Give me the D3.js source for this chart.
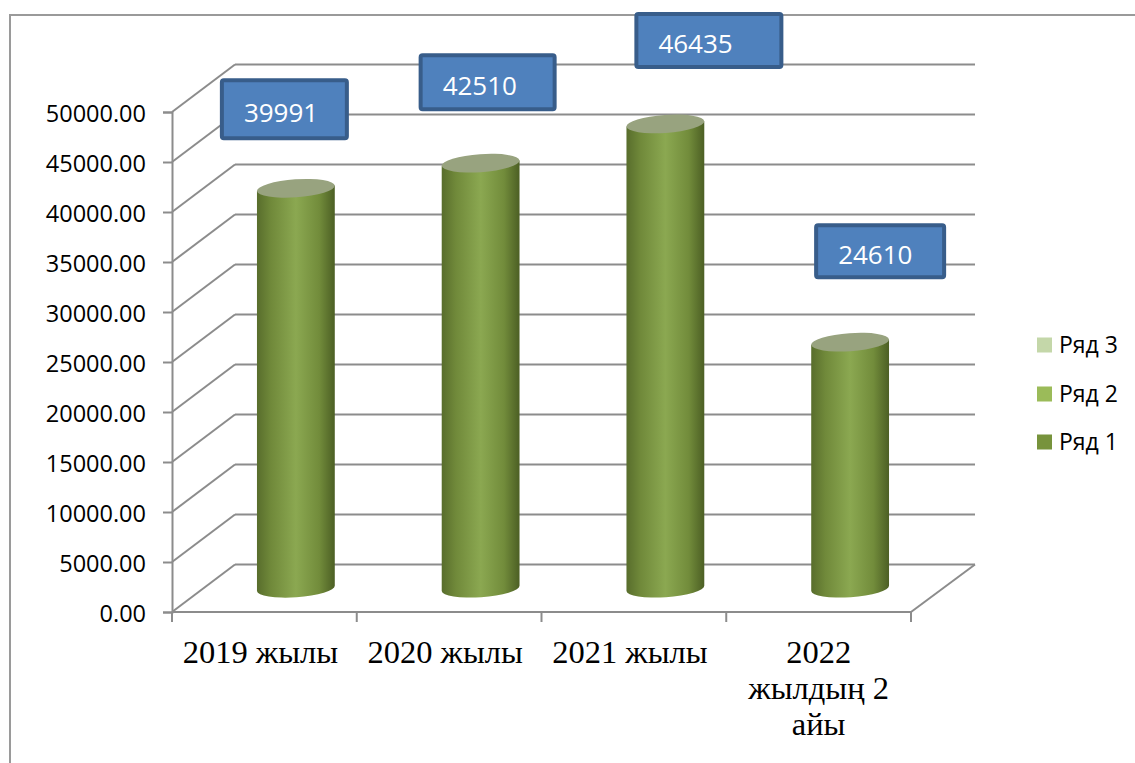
<!DOCTYPE html>
<html>
<head>
<meta charset="utf-8">
<script src="https://cdn.jsdelivr.net/npm/d3@7"></script>
<style>
  html, body { margin: 0; padding: 0; background: #fff; }
  svg { display: block; }
</style>
</head>
<body>
<svg id="chart" width="1135" height="763"></svg>
<script>
// ---------- data ----------
const categories = ["2019 жылы", "2020 жылы", "2021 жылы", "2022\nжылдың 2\nайы"];
const seriesValues = [39991, 42510, 46435, 24610];      // Ряд 1
const valueLabels = ["39991", "42510", "46435", "24610"];
const yTicks = [0, 5000, 10000, 15000, 20000, 25000, 30000, 35000, 40000, 45000, 50000];
const legendNames = ["Ряд 3", "Ряд 2", "Ряд 1"];
const legendColors = ["#C4D7A9", "#9BBB59", "#77933C"];

// ---------- layout ----------
const W = 1135, H = 763;
const plot = { left: 172, right: 911, top: 112, bottom: 612 };
const depth = { dx: 63, dy: -47.5 };
const cylRx = 39, cylRy = 9, tilt = -4;
// manual placement of the data-label boxes (relative to the cylinder top)
const labelBoxes = [
  { dx: -74, dy: -108, w: 125, h: 58 },
  { dx: -60, dy: -108, w: 134, h: 54 },
  { dx: -29, dy: -110, w: 145, h: 53 },
  { dx: -34, dy: -117, w: 128, h: 52 }
];

const svg = d3.select("#chart");
const grid = "#8c8c8c";

// outer chart border
svg.append("rect").attr("x", 10).attr("y", 15).attr("width", W + 20).attr("height", H + 20)
  .attr("fill", "none").attr("stroke", "#9a9a9a").attr("stroke-width", 2);

const y = d3.scaleLinear().domain([0, 50000]).range([plot.bottom, plot.top]);
const x = d3.scaleBand().domain(categories).range([plot.left, plot.right]).paddingInner(0).paddingOuter(0);

const gGrid = svg.append("g");
// back wall grid lines + left wall diagonals
yTicks.forEach(t => {
  const yy = y(t);
  gGrid.append("line")
    .attr("x1", plot.left + depth.dx).attr("y1", yy + depth.dy)
    .attr("x2", plot.right + depth.dx + 1).attr("y2", yy + depth.dy)
    .attr("stroke", grid).attr("stroke-width", 2);
  gGrid.append("line")
    .attr("x1", plot.left).attr("y1", yy)
    .attr("x2", plot.left + depth.dx).attr("y2", yy + depth.dy)
    .attr("stroke", grid).attr("stroke-width", 2);
});
// floor right diagonal
gGrid.append("line")
  .attr("x1", plot.right).attr("y1", y(0))
  .attr("x2", plot.right + depth.dx + 1).attr("y2", y(0) + depth.dy)
  .attr("stroke", grid).attr("stroke-width", 2);

// y axis
const yAxis = d3.axisLeft(y).tickValues(yTicks).tickFormat(d3.format(".2f")).tickSize(9).tickPadding(17);
const gy = svg.append("g").attr("transform", `translate(${plot.left},0)`).call(yAxis);
gy.select(".domain").attr("stroke", grid).attr("stroke-width", 2);
gy.selectAll(".tick line").attr("stroke", grid).attr("stroke-width", 2);
gy.selectAll(".tick text")
  .attr("font-family", "'Open Sans', sans-serif").attr("font-size", 23.5)
  .attr("fill", "#000").attr("dy", "0.42em");

// x axis (ticks at category boundaries)
const gx = svg.append("g");
gx.append("line").attr("x1", plot.left).attr("x2", plot.right)
  .attr("y1", y(0)).attr("y2", y(0)).attr("stroke", grid).attr("stroke-width", 2);
const bounds = categories.map(c => x(c)).concat([plot.right]);
gx.selectAll("line.tk").data(bounds).enter().append("line").attr("class", "tk")
  .attr("x1", d => d).attr("x2", d => d)
  .attr("y1", y(0)).attr("y2", y(0) + 10)
  .attr("stroke", grid).attr("stroke-width", 2);
categories.forEach((c, ci) => {
  const lines = c.split("\n");
  const cx = x(c) + x.bandwidth() / 2 - (lines.length === 1 ? 4 : 0);
  const t = gx.append("text")
    .attr("x", cx)
    .attr("y", 663)
    .attr("text-anchor", "middle")
    .attr("font-family", "'Liberation Serif', 'Times New Roman', serif")
    .attr("font-size", 32.5).attr("fill", "#000");
  lines.forEach((ln, i) => {
    t.append("tspan").attr("x", cx).attr("dy", i === 0 ? 0 : 36).text(ln);
  });
});

// gradient for cylinders
const defs = svg.append("defs");
const grad = defs.append("linearGradient").attr("id", "cyl").attr("x1", "0%").attr("x2", "100%").attr("y1", "0%").attr("y2", "0%");
[["0%", "#586d2c"], ["18%", "#70893a"], ["50%", "#8ba851"], ["80%", "#728c3b"], ["100%", "#4c5f24"]]
  .forEach(s => grad.append("stop").attr("offset", s[0]).attr("stop-color", s[1]));

// cylinders
const rad = tilt * Math.PI / 180;
function rot(cx, cy, px, py) {
  return [cx + px * Math.cos(rad) - py * Math.sin(rad), cy + px * Math.sin(rad) + py * Math.cos(rad)];
}
const gCyl = svg.append("g");
seriesValues.forEach((v, i) => {
  const cx = x(categories[i]) + x.bandwidth() / 2 + depth.dx / 2;
  const by = y(0) + depth.dy / 2;
  const ty = y(v) + depth.dy / 2;
  const tl = rot(cx, ty, -cylRx, 0), tr = rot(cx, ty, cylRx, 0);
  const bl = rot(cx, by, -cylRx, 0), br = rot(cx, by, cylRx, 0);
  gCyl.append("path")
    .attr("d", `M${tl[0]},${tl[1]} L${bl[0]},${bl[1]} A${cylRx},${cylRy} ${tilt} 0 0 ${br[0]},${br[1]} L${tr[0]},${tr[1]} Z`)
    .attr("fill", "url(#cyl)");
  gCyl.append("ellipse")
    .attr("cx", cx).attr("cy", ty).attr("rx", cylRx).attr("ry", cylRy)
    .attr("transform", `rotate(${tilt},${cx},${ty})`)
    .attr("fill", "#98a37f");
});

// data label boxes
const gLab = svg.append("g");
seriesValues.forEach((v, i) => {
  const cx = x(categories[i]) + x.bandwidth() / 2 + depth.dx / 2;
  const ty = y(v) + depth.dy / 2;
  const b = labelBoxes[i];
  const bx = cx + b.dx, byy = ty + b.dy;
  gLab.append("rect").attr("x", bx).attr("y", byy).attr("width", b.w).attr("height", b.h)
    .attr("rx", 2).attr("fill", "#4F81BD").attr("stroke", "#385D8A").attr("stroke-width", 4);
  gLab.append("text").attr("x", bx + 22).attr("y", byy + b.h / 2 + 3)
    .attr("dy", "0.36em")
    .attr("font-family", "'Open Sans', sans-serif").attr("font-size", 26)
    .attr("fill", "#fff").text(valueLabels[i]);
});

// legend
const gLeg = svg.append("g");
const legY = [345, 394, 442];
legendNames.forEach((n, i) => {
  gLeg.append("rect").attr("x", 1037).attr("y", legY[i] - 7.5).attr("width", 15).attr("height", 15)
    .attr("fill", legendColors[i]);
  gLeg.append("text").attr("x", 1059).attr("y", legY[i]).attr("dy", "0.36em")
    .attr("font-family", "'Open Sans', sans-serif").attr("font-size", 23)
    .attr("fill", "#000").text(n);
});
</script>
</body>
</html>
